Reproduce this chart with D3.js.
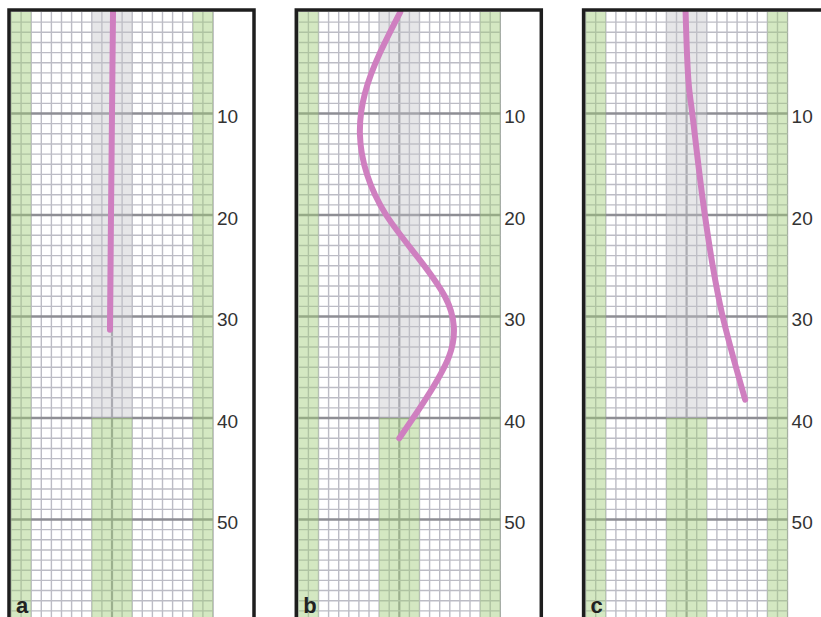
<!DOCTYPE html>
<html>
<head>
<meta charset="utf-8">
<script src="https://cdn.jsdelivr.net/npm/d3@7"></script>
<style>
  body { margin: 0; background: #fff; }
  svg { display: block; }
</style>
</head>
<body>
<div class="chart"></div>
<script>
// panel letters and depth tick labels
const panels = ["a", "b", "c"];
const depthTicks = [10, 20, 30, 40, 50];

// traced curves: depth (down) and sideways offset in grid cells
const depthA  = [0, 10, 20, 31.3];
const offsetA = [0.1, 0.0, -0.1, -0.2];

const depthB  = [0, 4, 8, 12, 16, 20, 24, 28, 31, 34, 38, 42];
const offsetB = [0.1, -1.9, -3.4, -3.9, -3.2, -1.3, 1.7, 4.5, 5.4, 4.9, 2.7, 0.0];

const depthC  = [0, 7.0, 10.3, 18.5, 25.1, 29.7, 33.6, 38.2];
const offsetC = [-0.1, 0.2, 0.6, 1.6, 2.6, 3.5, 4.5, 5.8];

const curves = [
  depthA.map((d, i) => ({depth: d, off: offsetA[i]})),
  depthB.map((d, i) => ({depth: d, off: offsetB[i]})),
  depthC.map((d, i) => ({depth: d, off: offsetC[i]}))
];

const W = 821, H = 617;
const panelStep = 287.3;
const frameX0 = 9, frameW = 245, frameTop = 10;
const gridW = 202;

const svg = d3.select(".chart").append("svg")
    .attr("width", W)
    .attr("height", H);

const yScale = d3.scaleLinear()
    .domain([0, 60])
    .range([12, 621]);

panels.forEach((p, i) => {
  const fx = frameX0 + panelStep * i;
  const gx = fx + 2;

  const xScale = d3.scaleLinear()
      .domain([-10, 10])
      .range([gx, gx + gridW]);

  const g = svg.append("g").attr("class", "panel-" + p);

  // minor grid
  g.append("g").selectAll("line")
    .data(d3.range(-10, 11))
    .join("line")
      .attr("x1", d => xScale(d)).attr("x2", d => xScale(d))
      .attr("y1", yScale(0)).attr("y2", yScale(60))
      .attr("stroke", d => d === 0 ? "#9a9aa0" : (d === 10 ? "#a8a8ae" : "#bcbcc5"))
      .attr("stroke-width", d => d === 0 ? 2.2 : 1.4);

  g.append("g").selectAll("line")
    .data(d3.range(1, 60))
    .join("line")
      .attr("x1", xScale(-10)).attr("x2", xScale(10))
      .attr("y1", d => yScale(d)).attr("y2", d => yScale(d))
      .attr("stroke", d => d % 10 === 0 ? "#8e8e94" : "#bcbcc5")
      .attr("stroke-width", d => d % 10 === 0 ? 2.6 : 1.4);

  // bands on top of the grid
  const bands = [
    {x0: -10, x1: -8, y0: 0, y1: 60, fill: "rgb(160,205,120)", op: 0.45},
    {x0: 8, x1: 10, y0: 0, y1: 60, fill: "rgb(160,205,120)", op: 0.45},
    {x0: -2, x1: 2, y0: 0, y1: 40, fill: "#c4c4c8", op: 0.42},
    {x0: -2, x1: 2, y0: 40, y1: 60, fill: "rgb(160,205,120)", op: 0.45}
  ];
  g.append("g").selectAll("rect")
    .data(bands)
    .join("rect")
      .attr("x", d => xScale(d.x0))
      .attr("y", d => yScale(d.y0))
      .attr("width", d => xScale(d.x1) - xScale(d.x0))
      .attr("height", d => yScale(d.y1) - yScale(d.y0))
      .attr("fill", d => d.fill)
      .attr("opacity", d => d.op);

  // white strip for labels
  g.append("rect")
    .attr("x", xScale(10) + 1)
    .attr("y", frameTop)
    .attr("width", fx + frameW - xScale(10) - 1)
    .attr("height", H)
    .attr("fill", "#fff");

  // depth labels
  const yAxis = d3.axisRight(yScale)
      .tickValues(depthTicks)
      .tickSize(0)
      .tickPadding(0);
  g.append("g")
    .attr("transform", `translate(${xScale(10) + 4}, 3)`)
    .call(yAxis)
    .call(a => a.select(".domain").remove())
    .selectAll("text")
      .attr("font-family", "'Liberation Sans', Arial, sans-serif")
      .attr("font-size", 19)
      .attr("fill", "#333");

  // the curve
  const line = d3.line()
      .x(d => xScale(d.off))
      .y(d => yScale(d.depth))
      .curve(i === 1 ? d3.curveNatural : d3.curveCatmullRom);
  g.append("path")
    .datum(curves[i])
    .attr("d", line)
    .attr("fill", "none")
    .attr("stroke", "#cf7fc0")
    .attr("stroke-width", 6)
    .attr("stroke-linecap", "round");

  // frame
  g.append("rect")
    .attr("x", fx)
    .attr("y", frameTop)
    .attr("width", frameW)
    .attr("height", H + 40)
    .attr("fill", "none")
    .attr("stroke", "#1e1e1e")
    .attr("stroke-width", 3.5);

  // panel letter
  g.append("text")
    .text(p)
    .attr("x", fx + 7)
    .attr("y", 613)
    .attr("font-family", "'Liberation Sans', Arial, sans-serif")
    .attr("font-weight", "bold")
    .attr("font-size", 22)
    .attr("fill", "#222");
});
</script>
</body>
</html>
